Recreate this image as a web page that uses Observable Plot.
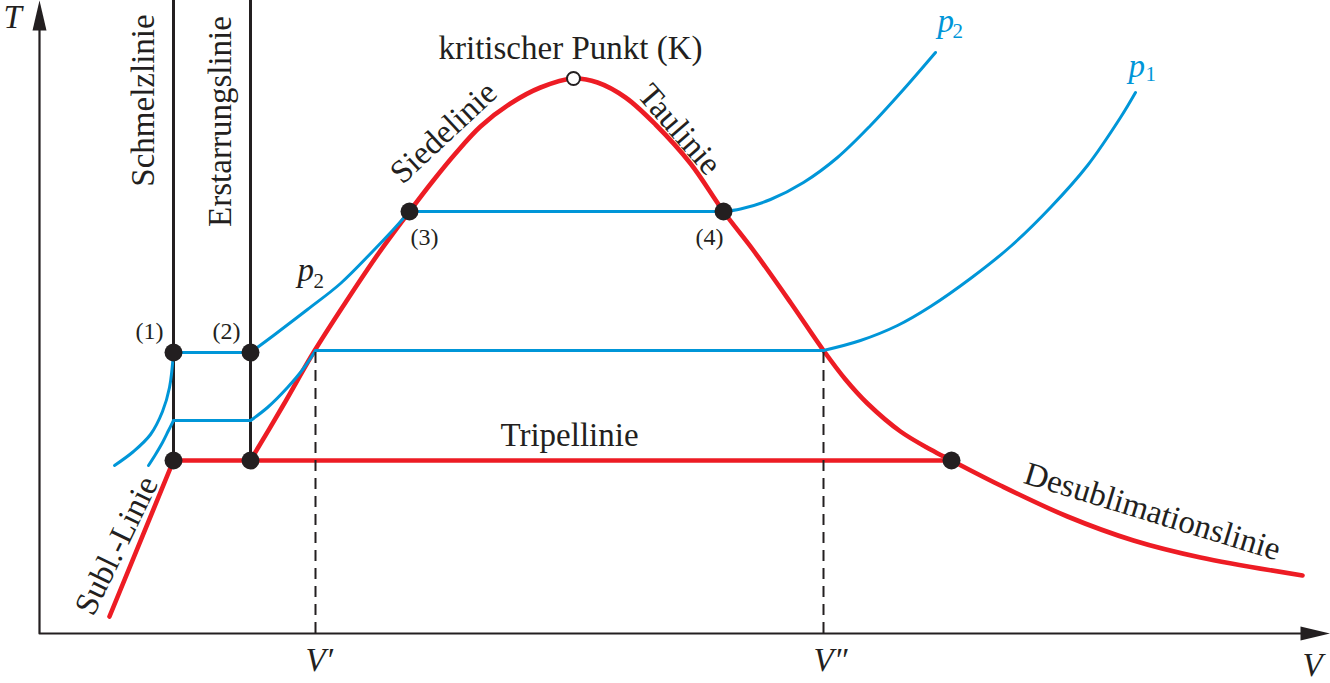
<!DOCTYPE html>
<html><head><meta charset="utf-8">
<script src="https://cdn.jsdelivr.net/npm/d3@7"></script>
<script src="https://cdn.jsdelivr.net/npm/@observablehq/plot@0.6"></script>
<style>html,body{margin:0;padding:0;background:#fff}svg{display:block}</style>
</head><body><div id="chart"></div>
<script>
// ---- data (V = volume, T = temperature, arbitrary units) ----
const axisV = [0, 1291];             // V axis extent (arrow tip at right)
const axisT = [0, 633];              // T axis extent (arrow tip at top)
const tripleT = 173;                 // temperature of the triple line

// Siedelinie - kritischer Punkt - Taulinie - Desublimationslinie
const phaseDome = [[211,173],[243,227],[274,281],[308,334],[339,380],[370,422],[393,452],[416,480],[441,507],[471,530],[501,546],[534,555],[558,551],[586,536],[616,509],[651,470],[684,422],[714,383],[751,331],[784,283],[806,254],[828,230],[861,202],[891,184],[912,173],[961,148],[1028,117],[1094,93],[1161,76],[1263,58]];
const sublLine = [[70,17],[134,173]];
const tripleLine = [[134,173],[912,173]];
const meltV = [134, 211];            // Schmelzlinie, Erstarrungslinie
const satV = [276, 784];             // V', V''
const satT = 283;

// isobar p2 (upper), in segments
const p2Left  = [[75,168],[94,182],[111,199],[123,222],[130,246],[134,281]];
const p2Solid = [[134,281],[211,281]];
const p2Rise  = [[211,281],[234,298],[268,324],[301,350],[334,383],[353,403],[370,422]];
const p2Flat  = [[370,422],[684,422]];
const p2Right = [[684,422],[701,424.5],[731,434],[764,451],[798,476],[831,508],[864,544],[896,581]];
// isobar p1 (lower), in segments
const p1Left  = [[109,168],[116,179],[123,191],[129,203],[134,213]];
const p1Solid = [[134,213],[211,213]];
const p1Rise  = [[211,213],[228,226],[248,246],[264,265],[276,283]];
const p1Flat  = [[276,283],[784,283]];
const p1Right = [[784,283],[821,293],[858,308],[891,327],[931,355],[971,387],[1011,426],[1048,468],[1081,516],[1096,541]];

const statePoints = [[134,281],[211,281],[134,173],[211,173],[912,173],[370,422],[684,422]];
const criticalPoint = [[534,555]];

const labels = [
  {text:"kritischer Punkt (K)", V:531, T:585, rot:0},
  {text:"Siedelinie", V:404, T:501, rot:-43},
  {text:"Taulinie", V:640, T:504, rot:49},
  {text:"Tripellinie", V:530, T:198, rot:0},
  {text:"Desublimationslinie", V:1113, T:122, rot:17},
  {text:"Subl.-Linie", V:77, T:88, rot:-64},
  {text:"Schmelzlinie", V:104, T:533, rot:-90},
  {text:"Erstarrungslinie", V:181, T:512, rot:-90}
];
const pointLabels = [
  {text:"(1)", V:110, T:302},{text:"(2)", V:187, T:302},
  {text:"(3)", V:385, T:396},{text:"(4)", V:670, T:396}
];
const axisLabels = [
  {text:"T", V:-36, T:606},
  {text:"V", V:1263, T:-42},
  {text:"V\u2032", V:266, T:-37},
  {text:"V\u2033", V:774, T:-37}
];
const isobarLabels = [
  {p:"p", sub:"2", V:258, T:353, subV:274, subT:346, color:"ink"},
  {p:"p", sub:"2", V:898, T:602, subV:913, subT:596, color:"blue"},
  {p:"p", sub:"1", V:1089, T:557, subV:1106, subT:553, color:"blue"}
];

// ---- build ----
const ink = "#231f20", red = "#ed1c24", blue = "#0096d8";
const pts = a => a.map(([V,T]) => ({V,T}));
const segs = (list) => list.flatMap((a,i) => a.map(([V,T]) => ({V,T,seg:i})));
const headL = 30, headW = 7;
const xArrow = [[axisV[1],0],[axisV[1]-headL,headW],[axisV[1]-headL,-headW],[axisV[1],0]];
const yArrow = [[0,axisT[1]],[headW,axisT[1]-headL],[-headW,axisT[1]-headL],[0,axisT[1]]];

const chart = Plot.plot({
  width: 1330, height: 683,
  marginLeft: 39, marginRight: 0, marginTop: 0, marginBottom: 50,
  x: {domain: axisV, axis: null},
  y: {domain: axisT, axis: null},
  style: {fontFamily: "'Liberation Serif', 'Times New Roman', serif", background: "#fff", color: ink},
  marks: [
    // axes
    Plot.line(pts([[0,axisT[1]-headL+2],[0,0],[axisV[1]-headL+2,0]]), {x:"V", y:"T", stroke: ink, strokeWidth: 2.2}),
    Plot.line(pts(xArrow), {x:"V", y:"T", fill: ink, stroke: "none"}),
    Plot.line(pts(yArrow), {x:"V", y:"T", fill: ink, stroke: "none"}),
    // melting / solidification lines
    Plot.ruleX(meltV, {x: d => d, y1: tripleT, y2: axisT[1], stroke: ink, strokeWidth: 3}),
    // red phase boundaries
    Plot.line(pts(phaseDome), {x:"V", y:"T", stroke: red, strokeWidth: 4.6, curve: "catmull-rom"}),
    Plot.line(pts(sublLine), {x:"V", y:"T", stroke: red, strokeWidth: 4.6}),
    Plot.line(pts(tripleLine), {x:"V", y:"T", stroke: red, strokeWidth: 4.6}),
    // isobars
    Plot.line(segs([p2Left,p2Solid,p2Rise,p2Flat,p2Right]), {x:"V", y:"T", z:"seg", stroke: blue, strokeWidth: 3, curve: "catmull-rom"}),
    Plot.line(segs([p1Left,p1Solid,p1Rise,p1Flat,p1Right]), {x:"V", y:"T", z:"seg", stroke: blue, strokeWidth: 3, curve: "catmull-rom"}),
    // V', V'' dashed
    Plot.ruleX(satV, {x: d => d, y1: 0, y2: satT, stroke: ink, strokeWidth: 2, strokeDasharray: "11,7"}),
    // state points
    Plot.dot(pts(statePoints), {x:"V", y:"T", r: 9, fill: ink, stroke: "none"}),
    Plot.dot(pts(criticalPoint), {x:"V", y:"T", r: 6.5, fill: "#fff", stroke: ink, strokeWidth: 2}),
    // labels
    Plot.text(labels, {x:"V", y:"T", text:"text", rotate:"rot", fontSize: 33, fill: ink}),
    Plot.text(pointLabels, {x:"V", y:"T", text:"text", fontSize: 24, fill: ink}),
    Plot.text(axisLabels, {x:"V", y:"T", text:"text", textAnchor: "start", fontSize: 33, fontStyle: "italic", lineAnchor: "bottom", fill: ink}),
    Plot.text(isobarLabels, {x:"V", y:"T", text:"p", textAnchor:"start", lineAnchor:"bottom", fontSize: 33, fontStyle:"italic", fill: d => d.color === "blue" ? blue : ink}),
    Plot.text(isobarLabels, {x:"subV", y:"subT", text:"sub", textAnchor:"start", lineAnchor:"bottom", fontSize: 21, fill: d => d.color === "blue" ? blue : ink})
  ]
});
document.getElementById("chart").append(chart);
</script>
</body></html>
